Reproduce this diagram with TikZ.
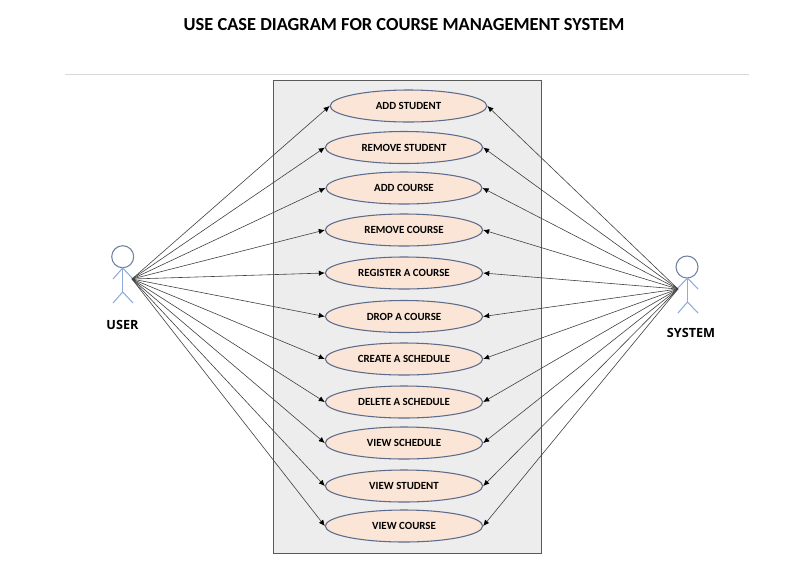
\documentclass[tikz,border=0pt]{standalone}
\usepackage{fontspec}
\setmainfont{Carlito}
\newfontfamily\labelfont{Open Sans}
\usetikzlibrary{arrows.meta,shapes.geometric}
\definecolor{boxfill}{RGB}{237,237,237}
\definecolor{boxline}{RGB}{89,89,89}
\definecolor{casefill}{RGB}{251,229,214}
\definecolor{caseline}{RGB}{93,107,140}
\definecolor{headline}{RGB}{112,128,160}
\definecolor{limbline}{RGB}{143,170,220}
\tikzset{
  usecase/.style={ellipse,draw=caseline,fill=casefill,line width=0.8pt,inner sep=0pt,
    minimum width=118pt,minimum height=24pt,font=\fontsize{8.2pt}{10pt}\selectfont\bfseries},
  assoc/.style={draw=black!75,line width=0.45pt,-{Latex[length=4.5pt,width=4pt,black]}},
  head/.style={circle,draw=headline,line width=0.8pt,fill=white,minimum size=16.5pt,inner sep=0pt},
  limb/.style={draw=limbline,line width=0.8pt},
  actorname/.style={font=\labelfont\fontsize{9.5pt}{11pt}\selectfont\bfseries}
}
\begin{document}
\begin{tikzpicture}[x=0.75pt,y=-0.75pt]
\useasboundingbox (0,0) rectangle (806,576);

\node[font=\fontsize{13.8pt}{16pt}\selectfont\bfseries] (title) at (404,25) {USE CASE DIAGRAM FOR COURSE MANAGEMENT SYSTEM};
\coordinate (ruleleft) at (65,74.5);
\coordinate (ruleright) at (749,74.5);
\draw[black!15,line width=0.6pt] (ruleleft) -- (ruleright);

\draw[draw=boxline,fill=boxfill,line width=0.6pt] (273,80.5) rectangle (541,553);

\node[usecase,minimum width=117.5pt] (addstudent) at (408.5,106) {ADD STUDENT};
\node[usecase] (removestudent) at (404,147.5) {REMOVE STUDENT};
\node[usecase,minimum width=117pt] (addcourse) at (404,188) {ADD COURSE};
\node[usecase] (removecourse) at (404,230) {REMOVE COURSE};
\node[usecase] (register) at (404,273) {REGISTER A COURSE};
\node[usecase] (drop) at (404,316.5) {DROP A COURSE};
\node[usecase] (create) at (404,359) {CREATE A SCHEDULE};
\node[usecase] (delete) at (404,402) {DELETE A SCHEDULE};
\node[usecase] (viewschedule) at (404,443) {VIEW SCHEDULE};
\node[usecase] (viewstudent) at (404,486) {VIEW STUDENT};
\node[usecase] (viewcourse) at (404,526) {VIEW COURSE};

% user
\node[head] (userhead) at (122.7,256.7) {};
\coordinate (userneck) at (122.7,268);
\coordinate (userhip) at (122.7,292);
\coordinate (userarml) at (113,279);
\coordinate (userarmr) at (133,279);
\coordinate (userlegl) at (113,303);
\coordinate (userlegr) at (133,303);
\draw[limb] (userneck) -- (userhip);
\draw[limb] (userarml) -- (userneck) -- (userarmr);
\draw[limb] (userlegl) -- (userhip) -- (userlegr);
\node[actorname] (username) at (122.5,325) {USER};
\coordinate (userend) at (132,279);

% system
\node[head] (systemhead) at (687,267) {};
\coordinate (systemneck) at (687.5,278);
\coordinate (systemhip) at (687.5,302);
\coordinate (systemarml) at (677,289);
\coordinate (systemarmr) at (698,289);
\coordinate (systemlegl) at (678,313);
\coordinate (systemlegr) at (698,313);
\draw[limb] (systemneck) -- (systemhip);
\draw[limb] (systemarml) -- (systemneck) -- (systemarmr);
\draw[limb] (systemlegl) -- (systemhip) -- (systemlegr);
\node[actorname] (systemname) at (691,333) {SYSTEM};
\coordinate (systemend) at (678,289);

\draw[assoc] (userend) -- (addstudent.west);
\draw[assoc] (userend) -- (removestudent.west);
\draw[assoc] (userend) -- (addcourse.west);
\draw[assoc] (userend) -- (removecourse.west);
\draw[assoc] (userend) -- (register.west);
\draw[assoc] (userend) -- (drop.west);
\draw[assoc] (userend) -- (create.west);
\draw[assoc] (userend) -- (delete.west);
\draw[assoc] (userend) -- (viewschedule.west);
\draw[assoc] (userend) -- (viewstudent.west);
\draw[assoc] (userend) -- (viewcourse.west);

\draw[assoc] (systemend) -- (addstudent.east);
\draw[assoc] (systemend) -- (removestudent.east);
\draw[assoc] (systemend) -- (addcourse.east);
\draw[assoc] (systemend) -- (removecourse.east);
\draw[assoc] (systemend) -- (register.east);
\draw[assoc] (systemend) -- (drop.east);
\draw[assoc] (systemend) -- (create.east);
\draw[assoc] (systemend) -- (delete.east);
\draw[assoc] (systemend) -- (viewschedule.east);
\draw[assoc] (systemend) -- (viewstudent.east);
\draw[assoc] (systemend) -- (viewcourse.east);
\end{tikzpicture}
\end{document}
